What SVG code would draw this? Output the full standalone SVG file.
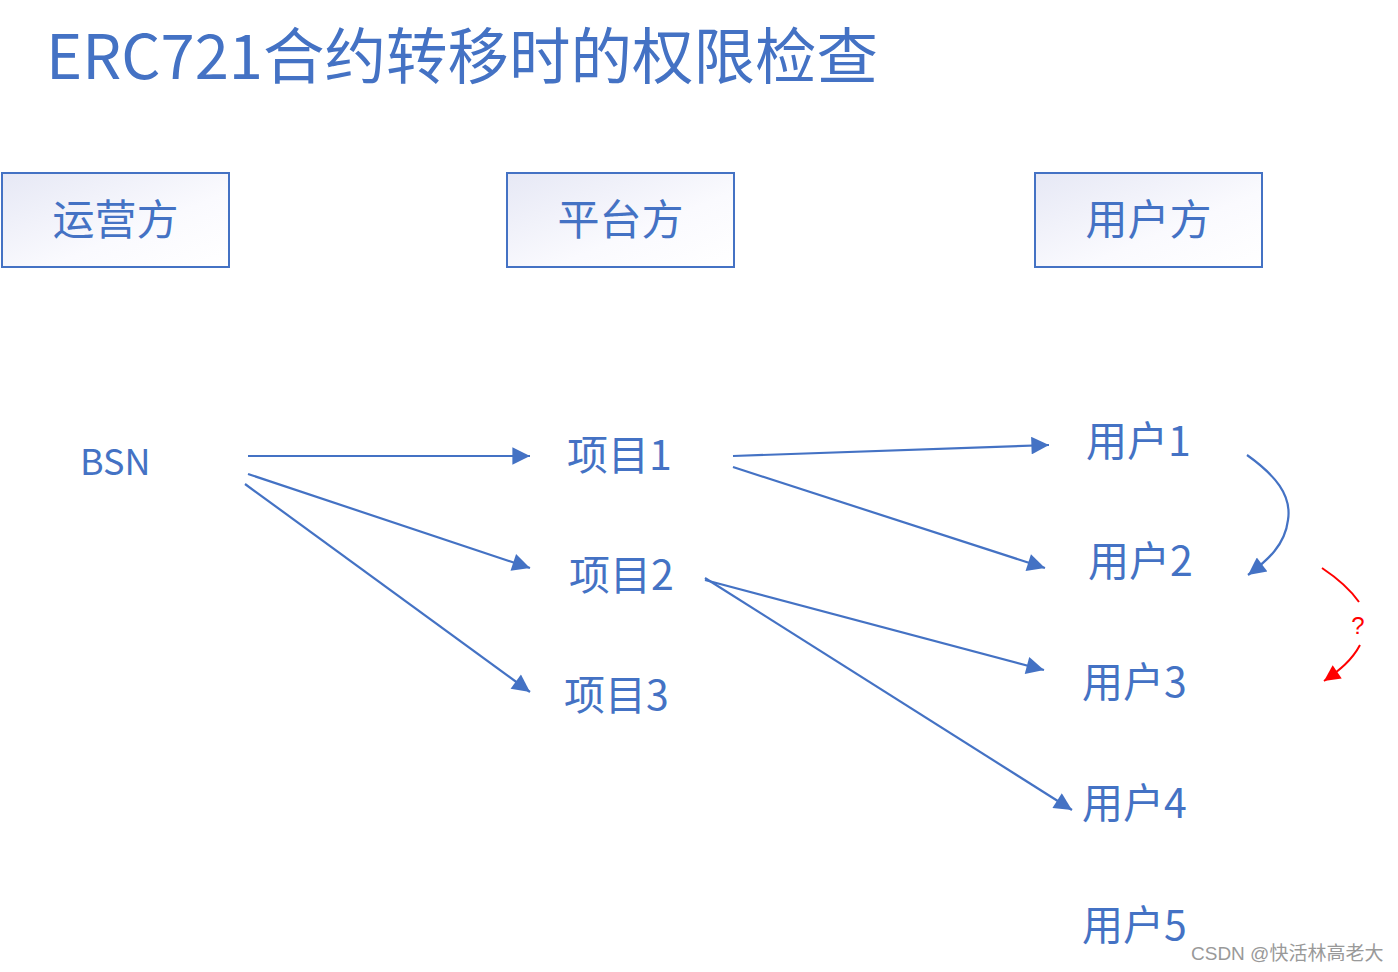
<svg xmlns="http://www.w3.org/2000/svg" width="1398" height="972" viewBox="0 0 1398 972">
<style>
.t{font-family:"Noto Sans CJK SC","Noto Sans",sans-serif;fill:#4472C4}
.box{stroke:#4472C4;stroke-width:2;fill:url(#g)}
.c{fill:none;stroke:#4472C4;stroke-width:2.2}
.r{fill:none;stroke:#FF0000;stroke-width:2}
</style>
<defs>
<linearGradient id="g" x1="0" y1="0" x2="1" y2="1">
<stop offset="0" stop-color="#E6E8F5"/>
<stop offset="0.6" stop-color="#FAFAFE"/>
<stop offset="1" stop-color="#FFFFFF"/>
</linearGradient>
<marker id="a" viewBox="0 0 10 10" refX="10" refY="5" markerWidth="9" markerHeight="8" markerUnits="strokeWidth" orient="auto">
<path d="M0,0L10,5L0,10z" fill="#4472C4"/>
</marker>
<marker id="ar" viewBox="0 0 10 10" refX="10" refY="5" markerWidth="9" markerHeight="8" markerUnits="strokeWidth" orient="auto">
<path d="M0,0L10,5L0,10z" fill="#FF0000"/>
</marker>
</defs>
<rect width="1398" height="972" fill="#FFFFFF"/>
<text id="title" class="t" x="46" y="79" font-size="61.5">ERC721合约转移时的权限检查</text>
<g id="n-yunying"><rect class="box" x="2" y="173" width="227" height="94"/><text class="t" x="115.5" y="235" font-size="42" text-anchor="middle">运营方</text></g>
<g id="n-pingtai"><rect class="box" x="507" y="173" width="227" height="94"/><text class="t" x="620.5" y="235" font-size="42" text-anchor="middle">平台方</text></g>
<g id="n-yonghu"><rect class="box" x="1035" y="173" width="227" height="94"/><text class="t" x="1148.5" y="235" font-size="42" text-anchor="middle">用户方</text></g>
<g id="n-bsn"><text class="t" x="80" y="475" font-size="36">BSN</text></g>
<g id="n-p1"><text class="t" x="567" y="470" font-size="41">项目1</text></g>
<g id="n-p2"><text class="t" x="569" y="590" font-size="41">项目2</text></g>
<g id="n-p3"><text class="t" x="564" y="710" font-size="41">项目3</text></g>
<g id="n-u1"><text class="t" x="1086" y="456" font-size="41">用户1</text></g>
<g id="n-u2"><text class="t" x="1088" y="576" font-size="41">用户2</text></g>
<g id="n-u3"><text class="t" x="1082" y="697" font-size="41">用户3</text></g>
<g id="n-u4"><text class="t" x="1082" y="818" font-size="41">用户4</text></g>
<g id="n-u5"><text class="t" x="1082" y="940" font-size="41">用户5</text></g>
<g id="connectors">
<line class="c" x1="248" y1="456" x2="530" y2="456" marker-end="url(#a)"/>
<line class="c" x1="248" y1="474" x2="530" y2="568" marker-end="url(#a)"/>
<line class="c" x1="245" y1="484" x2="530" y2="692" marker-end="url(#a)"/>
<line class="c" x1="733" y1="456" x2="1049" y2="445" marker-end="url(#a)"/>
<line class="c" x1="733" y1="467" x2="1045" y2="568" marker-end="url(#a)"/>
<line class="c" x1="705" y1="580" x2="1044" y2="670" marker-end="url(#a)"/>
<line class="c" x1="705" y1="578" x2="1072" y2="810" marker-end="url(#a)"/>
<path class="c" d="M1247,455 C1275,475 1292,495 1288,520 C1285,545 1268,560 1248,575" marker-end="url(#a)"/>
<path class="r" d="M1322,568 C1340,580 1352,592 1359,602"/>
<path class="r" d="M1360,645 C1352,660 1340,670 1324,681" marker-end="url(#ar)"/>
<text x="1358" y="634" font-family="Liberation Sans,sans-serif" font-size="24" fill="#FF0000" text-anchor="middle">?</text>
</g>
<text x="1191" y="960" font-family="'Liberation Sans','Noto Sans CJK SC',sans-serif" font-size="19" fill="#999999">CSDN @快活林高老大</text>
</svg>
